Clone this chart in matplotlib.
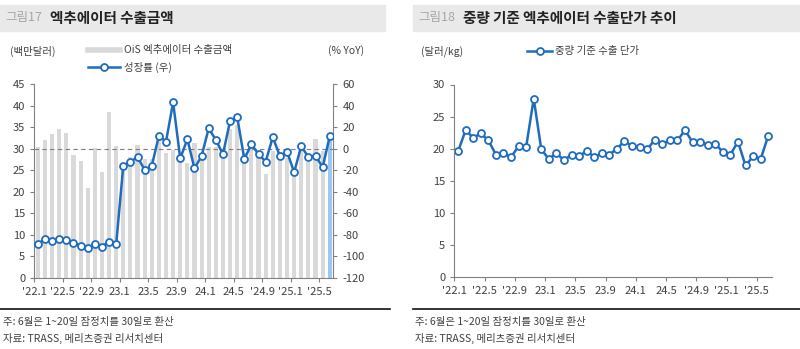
import matplotlib
matplotlib.use("Agg")
import matplotlib.pyplot as plt
from matplotlib.patches import Rectangle
from matplotlib.lines import Line2D

plt.rcParams['font.family'] = ['Noto Sans CJK KR', 'DejaVu Sans']
plt.rcParams['axes.unicode_minus'] = False

# data: 2022.1 ~ 2025.6 monthly
x_labels = ["'22.1", "'22.5", "'22.9", "23.1", "23.5", "23.9", "24.1", "24.5",
            "'24.9", "'25.1", "'25.5"]

export_amt = [30.5, 32.0, 33.4, 34.6, 33.6, 28.6, 27.1, 20.8, 30.1, 24.5, 38.4, 30.6,
              25.6, 28.0, 30.8, 27.5, 27.5, 32.0, 28.9, 29.6, 27.4, 26.6, 31.4, 28.6,
              30.4, 30.3, 29.2, 34.6, 35.5, 28.9, 30.1, 28.1, 24.1, 29.4, 29.2, 27.8,
              24.0, 31.0, 26.9, 32.3, 29.4, 32.4]

yoy = [-88.5, -83.8, -85.6, -84.1, -85.0, -87.2, -90.3, -92.4, -88.4, -90.9, -86.3, -88.7,
       -16.0, -12.3, -7.6, -19.8, -16.0, 11.9, 6.5, 43.0, -9.0, 8.8, -18.3, -6.8,
       18.9, 8.1, -5.2, 25.7, 29.3, -9.6, 4.1, -5.2, -12.0, 10.6, -6.8, -2.8,
       -21.9, 2.5, -8.0, -6.5, -17.3, 11.5]

unit_price = [19.6, 22.9, 21.7, 22.4, 21.3, 19.1, 19.3, 18.7, 20.4, 20.3, 27.8, 19.9,
              18.4, 19.3, 18.2, 19.1, 18.8, 19.7, 18.7, 19.3, 19.1, 20.0, 21.2, 20.4,
              20.2, 19.9, 21.4, 20.8, 21.3, 21.3, 22.9, 21.0, 21.1, 20.6, 20.8, 19.5,
              19.1, 21.1, 17.4, 18.8, 18.4, 22.0]

BLUE = '#1f6cbf'
GRAY_BAR = '#d9d9d9'
LAST_BAR = '#9cc7ee'
TXT = '#404040'
W, H = 800, 349

fig = plt.figure(figsize=(W / 100, H / 100), dpi=100)


def box(x0, y0, x1, y1):
    # pixel box (top-left origin) -> figure fraction
    return [x0 / W, 1 - y1 / H, (x1 - x0) / W, (y1 - y0) / H]


def fx(x):
    return x / W


def fy(y):
    return 1 - y / H


def style_axis(ax):
    for s in ['top', 'right']:
        ax.spines[s].set_visible(False)
    for s in ['left', 'bottom']:
        ax.spines[s].set_color('#808080')
        ax.spines[s].set_linewidth(0.8)
    ax.tick_params(axis='both', colors='#808080', labelcolor=TXT, labelsize=8, length=3, width=0.8)
    n = len(export_amt)
    ax.set_xlim(-0.5, n - 0.5)
    ax.set_xticks([i - 0.5 for i in range(0, n, 4)])
    ax.set_xticklabels(x_labels)


# ---- title bars
fig.patches.append(Rectangle((fx(0), fy(31)), fx(385), 26 / H, transform=fig.transFigure,
                             color='#e9e9e9', zorder=0))
fig.patches.append(Rectangle((fx(413), fy(31)), fx(387), 26 / H, transform=fig.transFigure,
                             color='#e9e9e9', zorder=0))
fig.text(fx(5), fy(17.5), '그림17', fontsize=9, color='#a6a6a6', va='center')
fig.text(fx(50), fy(17.5), '엑추에이터 수출금액', fontsize=10.5, color='#222222', va='center',
         fontweight='bold')
fig.text(fx(418), fy(17.5), '그림18', fontsize=9, color='#a6a6a6', va='center')
fig.text(fx(463), fy(17.5), '중량 기준 엑추에이터 수출단가 추이', fontsize=10.5, color='#222222',
         va='center', fontweight='bold')

# ---- left chart
ax1 = fig.add_axes(box(34.3, 84, 333.3, 278))
x = list(range(len(export_amt)))
colors = [GRAY_BAR] * (len(export_amt) - 1) + [LAST_BAR]
ax1.bar(x, export_amt, width=0.58, color=colors, zorder=1)
ax1.set_ylim(0, 45)
ax1.set_yticks(range(0, 46, 5))
style_axis(ax1)

ax2 = ax1.twinx()
ax2.set_ylim(-120, 60)
ax2.set_yticks(range(-120, 61, 20))
ax2.axhline(0, color='#7f7f7f', lw=0.8, ls=(0, (4, 3)), zorder=2)
ax2.plot(x, yoy, color=BLUE, lw=1.8, marker='o', ms=5, mfc='white', mec=BLUE, mew=1.3, zorder=3)
for s in ['top', 'left', 'bottom']:
    ax2.spines[s].set_visible(False)
ax2.spines['right'].set_color('#808080')
ax2.spines['right'].set_linewidth(0.8)
ax2.tick_params(axis='y', colors='#808080', labelcolor=TXT, labelsize=8, length=3, width=0.8)

fig.text(fx(10), fy(51), '(백만달러)', fontsize=7.5, color=TXT, va='center')
fig.text(fx(328), fy(51), '(% YoY)', fontsize=7.5, color=TXT, va='center')
fig.add_artist(Line2D([fx(88), fx(120)], [fy(50), fy(50)], transform=fig.transFigure,
                      color=GRAY_BAR, lw=4))
fig.text(fx(124), fy(50), 'OiS 엑추에이터 수출금액', fontsize=7.5, color=TXT, va='center')
fig.add_artist(Line2D([fx(88), fx(120)], [fy(67), fy(67)], transform=fig.transFigure,
                      color=BLUE, lw=1.8))
fig.add_artist(Line2D([fx(104)], [fy(67)], transform=fig.transFigure, marker='o', ms=5,
                      mfc='white', mec=BLUE, mew=1.3))
fig.text(fx(124), fy(67), '성장률 (우)', fontsize=7.5, color=TXT, va='center')

# ---- right chart
ax3 = fig.add_axes(box(454.3, 84.5, 772, 277.3))
ax3.plot(x, unit_price, color=BLUE, lw=1.8, marker='o', ms=5, mfc='white', mec=BLUE, mew=1.3)
ax3.set_ylim(0, 30)
ax3.set_yticks(range(0, 31, 5))
style_axis(ax3)

fig.text(fx(421), fy(51), '(달러/kg)', fontsize=7.5, color=TXT, va='center')
fig.add_artist(Line2D([fx(527), fx(552)], [fy(51), fy(51)], transform=fig.transFigure,
                      color=BLUE, lw=1.8))
fig.add_artist(Line2D([fx(539.5)], [fy(51)], transform=fig.transFigure, marker='o', ms=5,
                      mfc='white', mec=BLUE, mew=1.3))
fig.text(fx(555), fy(51), '중량 기준 수출 단가', fontsize=7.5, color=TXT, va='center')

# ---- footers
for x0, x1 in [(0, 390), (413, 800)]:
    fig.add_artist(Line2D([fx(x0), fx(x1)], [fy(309), fy(309)], transform=fig.transFigure,
                          color='#111111', lw=1.2))
for x0 in [3, 415]:
    fig.text(fx(x0), fy(322), '주: 6월은 1~20일 잠정치를 30일로 환산', fontsize=7.5, color=TXT, va='center')
    fig.text(fx(x0), fy(338), '자료: TRASS, 메리츠증권 리서치센터', fontsize=7.5, color=TXT, va='center')

fig.savefig('out.png', dpi=100)
